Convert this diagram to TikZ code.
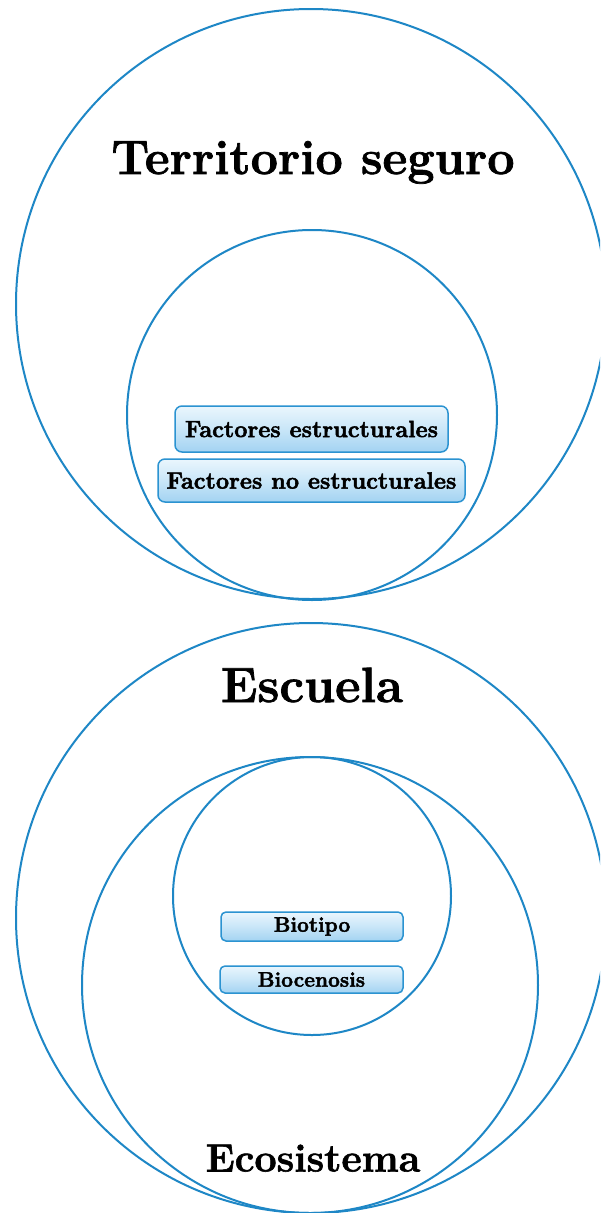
\documentclass[tikz,border=0pt]{standalone}
\usepackage{fontspec}
\newfontfamily\heavyfont{Latin Modern Roman}[BoldFeatures={FakeBold=1.5}]
\newfontfamily\boxfont{Latin Modern Roman}[BoldFeatures={FakeBold=2.2}]
\usetikzlibrary{shapes.geometric}
\definecolor{ringblue}{HTML}{1E87C6}
\definecolor{boxline}{HTML}{2B93D1}
\definecolor{boxtop}{HTML}{EAF6FD}
\definecolor{boxmid}{HTML}{C9E6F8}
\definecolor{boxbot}{HTML}{A3D3F2}
\tikzset{
  ring/.style={circle, draw=ringblue, line width=2pt, inner sep=0pt},
  pill/.style={rectangle, rounded corners=7pt, draw=boxline, line width=1.5pt,
    top color=boxtop, bottom color=boxbot, middle color=boxmid, inner sep=0pt,
    font=\boxfont\bfseries\fontsize{23.5}{25}\selectfont},
  smallpill/.style={pill, rounded corners=5pt, font=\boxfont\bfseries\fontsize{21}{23}\selectfont},
  bigtitle/.style={font=\heavyfont\bfseries\fontsize{48.5}{50}\selectfont, anchor=base, inner sep=0pt},
}
\begin{document}
\begin{tikzpicture}[x=1pt, y=-1pt]
\useasboundingbox (0,0) rectangle (600,1213);
\clip (0,0) rectangle (600,1213);
\fill[white] (0,0) rectangle (600,1213);
% top group
\node[ring, minimum size=590pt] (terr) at (311,304) {};
\node[ring, minimum size=370pt] (fact) at (312,415) {};
\node[bigtitle] (terrlbl) at (313,174) {Territorio seguro};
\node[pill, minimum width=273pt, minimum height=46pt] (fe) at (311.5,429) {Factores estructurales};
\node[pill, minimum width=307pt, minimum height=43pt] (fne) at (311.5,480.5) {Factores no estructurales};
% bottom group
\node[ring, minimum size=590pt] (esc) at (311,918) {};
\node[ring, minimum size=456pt] (eco) at (310,985) {};
\node[ring, minimum size=278pt] (bio) at (312,896) {};
\node[bigtitle, font=\heavyfont\bfseries\fontsize{49.5}{51}\selectfont] (esclbl) at (312,702) {Escuela};
\node[bigtitle, font=\heavyfont\bfseries\fontsize{39.5}{41}\selectfont] (ecolbl) at (313,1171.5) {Ecosistema};
\node[smallpill, minimum width=182pt, minimum height=29pt] (biot) at (312,926.5) {Biotipo};
\node[smallpill, minimum width=183pt, minimum height=27pt] (bioc) at (311.5,979.5) {Biocenosis};
\end{tikzpicture}
\end{document}
